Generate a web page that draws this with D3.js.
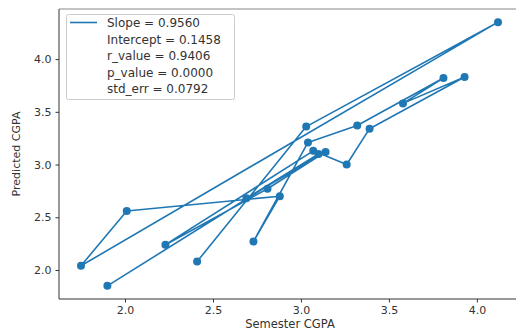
<!DOCTYPE html>
<html><head><meta charset="utf-8">
<script src="https://cdn.jsdelivr.net/npm/d3@7"></script>
<style>body{margin:0;background:#fff}svg{display:block}text{font-family:"DejaVu Sans",sans-serif}</style>
</head><body><svg id="c" width="516" height="332"></svg>
<script>
// data in plotting order
const semesterCGPA = [1.90,3.10,2.69,3.14,2.81,2.23,3.07,3.26,3.39,3.93,3.58,3.81,3.32,3.04,2.73,2.88,2.01,1.75,4.12,3.03,2.41];
const predictedCGPA = [1.85,3.10,2.68,3.12,2.77,2.24,3.13,3.00,3.34,3.83,3.58,3.82,3.37,3.21,2.27,2.70,2.56,2.04,4.35,3.36,2.08];
const xTicks = [2.0,2.5,3.0,3.5,4.0];
const yTicks = [2.0,2.5,3.0,3.5,4.0];
const legendLines = ["Slope = 0.9560","Intercept = 0.1458","r_value = 0.9406","p_value = 0.0000","std_err = 0.0792"];

const svg = d3.select("#c");
const L=59,T=9,B=299,R=520;
const x = d3.scaleLinear().domain([1.625,4.245]).range([L,R]);
const y = d3.scaleLinear().domain([1.725,4.475]).range([B,T]);
const col="#1f77b4";
const data = semesterCGPA.map((v,i)=>[v,predictedCGPA[i]]);

svg.append("path").datum(data).attr("fill","none").attr("stroke",col).attr("stroke-width",1.6)
  .attr("stroke-linejoin","round")
  .attr("d",d3.line().x(d=>x(d[0])).y(d=>y(d[1])));
svg.selectAll("circle.pt").data(data).enter().append("circle").attr("class","pt")
  .attr("cx",d=>x(d[0])).attr("cy",d=>y(d[1])).attr("r",4).attr("fill",col);

const xa = svg.append("g").attr("transform",`translate(0,${B})`)
  .call(d3.axisBottom(x).tickValues(xTicks).tickFormat(d3.format(".1f")).tickSize(3.5).tickPadding(4));
const ya = svg.append("g").attr("transform",`translate(${L},0)`)
  .call(d3.axisLeft(y).tickValues(yTicks).tickFormat(d3.format(".1f")).tickSize(3.5).tickPadding(4));
[xa,ya].forEach(a=>{a.select(".domain").remove();a.selectAll("line").attr("stroke","#333");
  a.selectAll("text").attr("font-size",11).attr("fill","#333");});
svg.append("line").attr("x1",L).attr("x2",R).attr("y1",B).attr("y2",B).attr("stroke","#333");
svg.append("line").attr("x1",L).attr("x2",L).attr("y1",T).attr("y2",B).attr("stroke","#333");
svg.append("line").attr("x1",L).attr("x2",R).attr("y1",T).attr("y2",T).attr("stroke","#888");

svg.append("text").attr("x",290).attr("y",328).attr("text-anchor","middle").attr("font-size",11.5).attr("fill","#333").text("Semester CGPA");
svg.append("text").attr("transform",`translate(20,${(T+B)/2}) rotate(-90)`).attr("text-anchor","middle").attr("font-size",11).attr("fill","#333").text("Predicted CGPA");

const lg = svg.append("g");
lg.append("rect").attr("x",66.5).attr("y",14.5).attr("width",168).attr("height",85).attr("rx",2)
  .attr("fill","#fff").attr("fill-opacity",0.8).attr("stroke","#ccc");
lg.append("line").attr("x1",70).attr("x2",97).attr("y1",22.5).attr("y2",22.5).attr("stroke",col).attr("stroke-width",1.6);
lg.selectAll("text").data(legendLines).enter().append("text")
  .attr("x",107).attr("y",(d,i)=>27+i*16.6).attr("font-size",12).attr("fill","#333").text(d=>d);
</script></body></html>
